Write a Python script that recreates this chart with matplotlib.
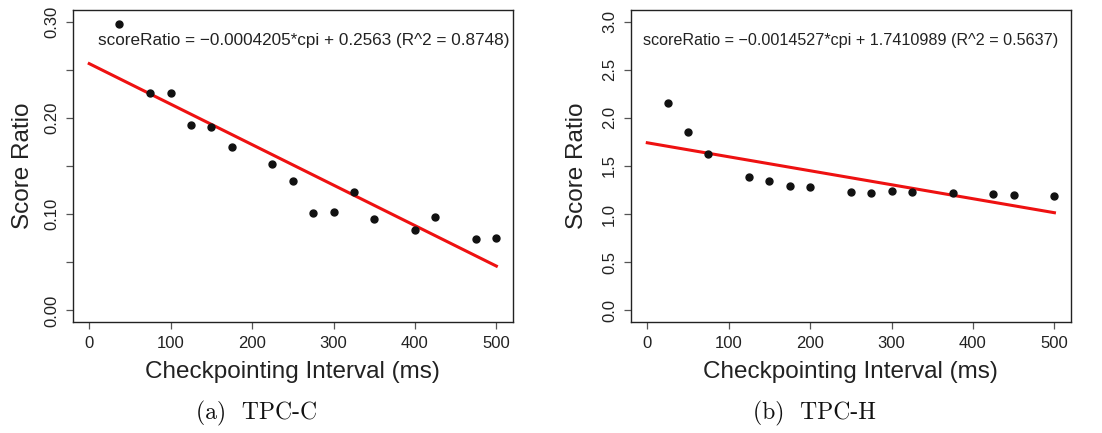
import matplotlib
matplotlib.use("Agg")
import matplotlib.pyplot as plt
import numpy as np

plt.rcParams['font.family'] = ['Liberation Sans', 'DejaVu Sans']

# TPC-C data
cpi_c = [37, 75, 100, 125, 150, 175, 225, 250, 275, 300, 325, 350, 400, 425, 475, 500]
ratio_c = [0.297, 0.226, 0.226, 0.193, 0.190, 0.170, 0.152, 0.134, 0.101, 0.102,
           0.123, 0.095, 0.084, 0.097, 0.074, 0.075]
fit_c = (-0.0004205, 0.2563)
eq_c = "scoreRatio = \u22120.0004205*cpi + 0.2563 (R^2 = 0.8748)"

# TPC-H data
cpi_h = [25, 50, 75, 125, 150, 175, 200, 250, 275, 300, 325, 375, 425, 450, 500]
ratio_h = [2.149, 1.854, 1.628, 1.382, 1.347, 1.295, 1.278, 1.233, 1.219, 1.236,
           1.233, 1.215, 1.205, 1.201, 1.191]
fit_h = (-0.0014527, 1.7410989)
eq_h = "scoreRatio = \u22120.0014527*cpi + 1.7410989 (R^2 = 0.5637)"

fig = plt.figure(figsize=(11.02, 4.33), dpi=100)

panels = [
    dict(x=cpi_c, y=ratio_c, fit=fit_c, eq=eq_c, eqx=264, eqy=0.280, eqs=12.3,
         ylim=(0, 0.30), yticks=np.arange(0, 0.301, 0.05),
         ylabels=["0.00", "", "0.10", "", "0.20", "", "0.30"],
         left=0.0662, cap="(a)  TPC-C", capx=0.233, ylx=0.021),
    dict(x=cpi_h, y=ratio_h, fit=fit_h, eq=eq_h, eqx=250, eqy=2.80, eqs=11.6,
         ylim=(0, 3.0), yticks=np.arange(0, 3.01, 0.5),
         ylabels=["0.0", "0.5", "1.0", "1.5", "2.0", "2.5", "3.0"],
         left=0.5726, cap="(b)  TPC-H", capx=0.739, ylx=0.5235),
]

for p in panels:
    ax = fig.add_axes([p['left'], 0.2564, 0.3990, 0.7205])
    ax.plot(p['x'], p['y'], 'o', color='#111111', markersize=5, zorder=3)
    xs = np.array([0, 500])
    ax.plot(xs, p['fit'][0] * xs + p['fit'][1], color='#ee1111', linewidth=2.2)
    ax.text(p['eqx'], p['eqy'], p['eq'], ha='center', va='center',
            fontsize=p['eqs'], color='#222222')

    lo, hi = p['ylim']
    pad = (hi - lo) * 0.04
    ax.set_ylim(lo - pad, hi + pad)
    ax.set_xlim(-20, 520)
    ax.set_xticks([0, 100, 200, 300, 400, 500])
    ax.set_yticks(p['yticks'])
    ax.set_yticklabels(p['ylabels'], rotation=90, va='center')
    ax.tick_params(direction='out', length=5, width=0.9, color='#555555',
                   labelsize=12, labelcolor='#222222', pad=5)
    for s in ax.spines.values():
        s.set_color('#222222')
        s.set_linewidth(1.0)

    cx = p['left'] + 0.3990 / 2
    fig.text(cx, 1 - 372 / 433, "Checkpointing Interval (ms)", ha='center',
             va='center', fontsize=17.5, color='#222222')
    fig.text(p['ylx'], 1 - 166 / 433, "Score Ratio", ha='center', va='center',
             rotation=90, fontsize=17.5, color='#222222')
    fig.text(p['capx'], 1 - 413 / 433, p['cap'], ha='center', va='center',
             fontsize=17, family=['cmr10', 'DejaVu Serif'], color='#111111')

fig.savefig("out.png", dpi=100)
